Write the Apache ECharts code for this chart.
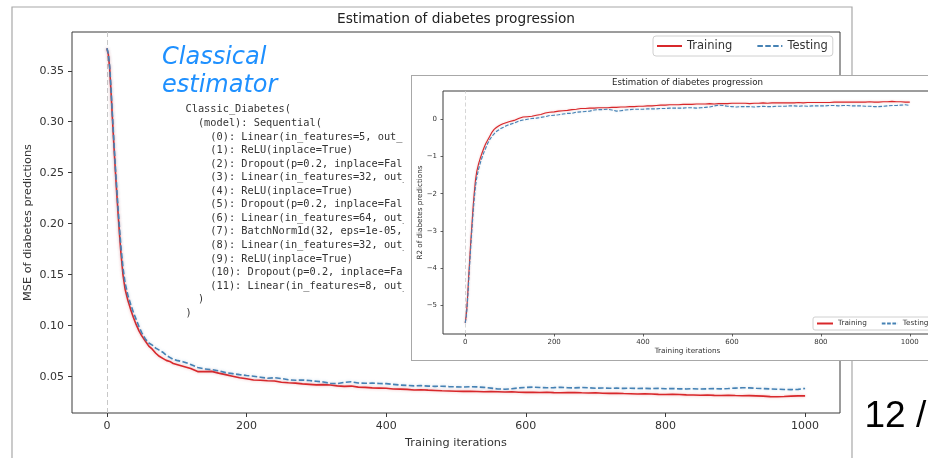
<!DOCTYPE html>
<html><head><meta charset="utf-8">
<script src="https://cdn.jsdelivr.net/npm/echarts@6/dist/echarts.min.js"></script>
<style>
html,body{margin:0;padding:0;width:928px;height:458px;overflow:hidden;background:#fff;}
#main{position:absolute;left:0;top:0;width:928px;height:458px;}
#inset{position:absolute;left:411px;top:75px;width:530px;height:286px;background:#fff;border:1px solid #a8a8a8;box-sizing:border-box;}
</style></head><body>
<div id="main"></div><div id="inset"></div>
<script>
const iters = [0,2,4,6,8,10,12,14,16,18,20,23,26,30,34,38,42,46,50,55,60,65,70,75,80,85,90,95,100,
110,120,130,140,150,160,170,180,190,200,210,220,230,240,250,260,270,280,290,300,
310,320,330,340,350,360,370,380,390,400,410,420,430,440,450,460,470,480,490,500,
510,520,530,540,550,560,570,580,590,600,610,620,630,640,650,660,670,680,690,700,
710,720,730,740,750,760,770,780,790,800,810,820,830,840,850,860,870,880,890,900,
910,920,930,940,950,960,970,980,990,1000];

const trainMSE = [0.372,0.366,0.352,0.328,0.302,0.277,0.253,0.231,0.210,0.190,0.172,0.150,0.136,0.125,0.116,0.108,0.101,0.095,0.090,0.085,0.080,0.077,0.073,0.070,0.068,0.066,0.065,0.063,0.062,
0.060,0.058,0.055,0.055,0.0552,0.0535,0.052,0.0505,0.049,0.048,
0.0468,0.0465,0.046,0.0458,0.0445,0.044,0.0437,0.043,0.0425,0.042,
0.0422,0.0418,0.041,0.0405,0.0408,0.0398,0.0395,0.039,0.0388,0.0386,
0.038,0.0378,0.0376,0.037,0.0372,0.0368,0.0365,0.0362,0.036,0.0358,
0.0356,0.0358,0.0355,0.0352,0.0354,0.0353,0.035,0.0352,0.0348,0.0346,
0.0348,0.0345,0.0347,0.0344,0.0342,0.0344,0.0345,0.0342,0.034,0.0342,
0.0338,0.0336,0.0338,0.0335,0.0333,0.033,0.0332,0.033,0.0327,0.0326,
0.0328,0.0325,0.0322,0.032,0.0318,0.032,0.0317,0.0316,0.0318,0.0315,
0.0313,0.0314,0.0312,0.0309,0.0305,0.0304,0.0306,0.0309,0.0312,0.0312];

const testMSE = [0.372,0.367,0.354,0.331,0.305,0.281,0.257,0.236,0.215,0.196,0.178,0.157,0.142,0.130,0.121,0.113,0.106,0.099,0.093,0.087,0.083,0.081,0.078,0.076,0.074,0.071,0.069,0.067,0.066,
0.0645,0.062,0.059,0.0575,0.057,0.0558,0.054,0.053,0.052,0.0512,
0.0505,0.0495,0.0485,0.049,0.0482,0.047,0.0465,0.0468,0.0462,0.0455,
0.0448,0.0435,0.0432,0.0445,0.045,0.0438,0.0435,0.0437,0.0433,0.0432,
0.0425,0.0418,0.0415,0.041,0.0412,0.0408,0.0405,0.0407,0.0403,0.040,
0.0398,0.0402,0.040,0.0395,0.0388,0.038,0.0377,0.0382,0.039,0.0395,
0.0398,0.0394,0.0391,0.0393,0.0396,0.0392,0.039,0.0394,0.0391,0.0387,
0.0389,0.0386,0.0388,0.0385,0.0387,0.0384,0.0386,0.0383,0.0385,0.0382,
0.0384,0.0381,0.038,0.0382,0.0379,0.0381,0.0383,0.0381,0.0384,0.0388,
0.0392,0.039,0.0386,0.0383,0.038,0.0377,0.0375,0.0373,0.0376,0.0385];

const trainR2 = [-5.47,-5.30,-5.02,-4.62,-4.18,-3.78,-3.38,-3.02,-2.66,-2.32,-2.02,-1.64,-1.40,-1.20,-1.04,-0.90,-0.77,-0.66,-0.57,-0.46,-0.35,-0.27,-0.22,-0.18,-0.15,-0.12,-0.10,-0.08,-0.06,
-0.03,0.02,0.06,0.07,0.08,0.11,0.13,0.17,0.19,0.20,
0.22,0.23,0.24,0.26,0.27,0.29,0.29,0.30,0.30,0.31,
0.31,0.31,0.32,0.32,0.33,0.33,0.34,0.34,0.35,0.35,
0.36,0.36,0.37,0.38,0.38,0.39,0.39,0.39,0.40,0.40,
0.40,0.41,0.41,0.41,0.42,0.41,0.42,0.42,0.42,0.43,
0.43,0.43,0.43,0.42,0.43,0.43,0.44,0.43,0.44,0.44,
0.44,0.44,0.44,0.44,0.45,0.44,0.45,0.45,0.45,0.45,
0.45,0.45,0.46,0.46,0.46,0.46,0.46,0.46,0.46,0.46,
0.47,0.46,0.46,0.47,0.47,0.48,0.47,0.47,0.46,0.46];

const testR2 = [-5.47,-5.33,-5.08,-4.72,-4.30,-3.90,-3.50,-3.14,-2.80,-2.47,-2.17,-1.80,-1.56,-1.34,-1.17,-1.02,-0.89,-0.78,-0.66,-0.55,-0.46,-0.39,-0.33,-0.29,-0.25,-0.22,-0.19,-0.16,-0.14,
-0.10,-0.05,-0.02,0.00,0.02,0.03,0.05,0.07,0.10,0.11,
0.12,0.14,0.16,0.16,0.19,0.20,0.21,0.22,0.25,0.26,
0.26,0.27,0.25,0.22,0.23,0.25,0.26,0.27,0.27,0.27,
0.28,0.28,0.28,0.29,0.29,0.30,0.30,0.30,0.30,0.31,
0.31,0.30,0.31,0.32,0.33,0.36,0.38,0.37,0.35,0.34,
0.33,0.34,0.34,0.34,0.33,0.34,0.35,0.34,0.34,0.35,
0.35,0.35,0.36,0.36,0.35,0.36,0.35,0.36,0.36,0.36,
0.36,0.37,0.37,0.36,0.37,0.37,0.36,0.36,0.36,0.35,
0.35,0.34,0.34,0.35,0.36,0.37,0.37,0.38,0.39,0.37];

const iterTicks = [0,200,400,600,800,1000];
const mseTicks = [0.05,0.10,0.15,0.20,0.25,0.30,0.35];
const r2Ticks = [-5,-4,-3,-2,-1,0];
const seriesNames = ['Training','Testing'];
const chartTitle = 'Estimation of diabetes progression';
const xName = 'Training iterations';
const yNameMain = 'MSE of diabetes predictions';
const yNameInset = 'R2 of diabetes predictions';
const codeLines = [
'Classic_Diabetes(',
'  (model): Sequential(',
'    (0): Linear(in_features=5, out_',
'    (1): ReLU(inplace=True)',
'    (2): Dropout(p=0.2, inplace=Fal',
'    (3): Linear(in_features=32, out_',
'    (4): ReLU(inplace=True)',
'    (5): Dropout(p=0.2, inplace=Fal',
'    (6): Linear(in_features=64, out_',
'    (7): BatchNorm1d(32, eps=1e-05,',
'    (8): Linear(in_features=32, out_',
'    (9): ReLU(inplace=True)',
'    (10): Dropout(p=0.2, inplace=Fa',
'    (11): Linear(in_features=8, out_',
'  )',
')'];

const FONT = '"DejaVu Sans", sans-serif';
const RED = '#d8282b';
const BLUE = '#4682b4';
const pairs = (ys) => iters.map((x, i) => [x, ys[i]]);
const minusFmt = (v) => (v < 0 ? '\u2212' + Math.abs(v) : String(v));

// ---------- main chart ----------
const main = echarts.init(document.getElementById('main'), null, {renderer: 'canvas'});
main.setOption({
  animation: false,
  backgroundColor: '#fff',
  grid: {left: 72, top: 32, width: 768, height: 381, show: true, borderColor: '#3a3a3a', borderWidth: 1,
    backgroundColor: 'transparent', containLabel: false, outerBoundsMode: 'none'},
  legend: {
    data: seriesNames, left: 653, top: 36, itemWidth: 25, itemHeight: 10, itemGap: 24,
    padding: [4, 5, 4, 3], borderColor: '#d0d0d0', borderWidth: 1, borderRadius: 3,
    backgroundColor: '#fff', itemStyle: {opacity: 0},
    textStyle: {fontFamily: FONT, fontSize: 11.5, color: '#333'}
  },
  xAxis: {
    type: 'value', min: -50, max: 1050,
    name: xName, nameLocation: 'middle', nameGap: 25, nameMoveOverlap: false,
    nameTextStyle: {fontFamily: FONT, fontSize: 11.3, color: '#333'},
    axisLine: {show: false, onZero: false},
    axisTick: {show: true, length: 4, lineStyle: {color: '#3a3a3a'}, customValues: iterTicks},
    axisLabel: {fontFamily: FONT, fontSize: 11, color: '#333', margin: 8, customValues: iterTicks, formatter: (v) => String(v)},
    splitLine: {show: false}
  },
  yAxis: {
    type: 'value', min: 0.0144, max: 0.388,
    name: yNameMain, nameLocation: 'middle', nameGap: 38, nameMoveOverlap: false,
    nameTextStyle: {fontFamily: FONT, fontSize: 11.3, color: '#333'},
    axisLine: {show: false, onZero: false},
    axisTick: {show: true, length: 4, lineStyle: {color: '#3a3a3a'}, customValues: mseTicks},
    axisLabel: {fontFamily: FONT, fontSize: 11, color: '#333', margin: 8, customValues: mseTicks, formatter: (v) => v.toFixed(2)},
    splitLine: {show: false}
  },
  series: [
    {
      name: seriesNames[0], type: 'line', data: pairs(trainMSE), symbol: 'none', z: 3,
      lineStyle: {color: RED, width: 1.6, shadowColor: 'rgba(216,40,43,0.35)', shadowBlur: 3},
      itemStyle: {color: RED},
      markLine: {silent: true, symbol: 'none', z: 1, label: {show: false},
        lineStyle: {color: '#c8c8c8', type: [5, 3], width: 1}, data: [{xAxis: 0}]}
    },
    {
      name: seriesNames[1], type: 'line', data: pairs(testMSE), symbol: 'none', z: 4,
      lineStyle: {color: BLUE, width: 1.6, type: [5.5, 2.4], shadowColor: 'rgba(70,130,180,0.3)', shadowBlur: 3},
      itemStyle: {color: BLUE}
    }
  ],
  graphic: [
    {type: 'rect', silent: true, z: -10, shape: {x: 12, y: 7, width: 840, height: 520},
      style: {fill: 'none', stroke: '#a8a8a8', lineWidth: 1.2}},
    {type: 'text', silent: true, style: {text: chartTitle, x: 456, y: 19.5, align: 'center', verticalAlign: 'middle',
      font: '13.7px ' + FONT, fill: '#222'}},
    {type: 'text', silent: true, style: {text: 'Classical\nestimator', x: 162, y: 43.5, align: 'left', verticalAlign: 'top',
      font: 'italic 24px ' + FONT, fill: '#1e90ff', lineHeight: 28}},
    {type: 'text', silent: true, style: {text: codeLines.join('\n'), x: 185.5, y: 103, align: 'left', verticalAlign: 'top',
      font: '10.3px "DejaVu Sans Mono", monospace', fill: '#333', lineHeight: 13.55}},
    {type: 'rect', silent: true, shape: {x: 404, y: 100, width: 8, height: 230}, style: {fill: '#fff'}},
    {type: 'text', silent: true, style: {text: '12 /', x: 864.5, y: 417, align: 'left', verticalAlign: 'middle',
      font: '37px "Liberation Sans"', fill: '#000'}}
  ]
});

// ---------- inset chart ----------
const inset = echarts.init(document.getElementById('inset'), null, {renderer: 'canvas'});
inset.setOption({
  animation: false,
  backgroundColor: '#fff',
  grid: {left: 31, top: 15, width: 489, height: 243, show: true, borderColor: '#3a3a3a', borderWidth: 1,
    containLabel: false, outerBoundsMode: 'none'},
  legend: {
    data: seriesNames, left: 401, top: 241, itemWidth: 16, itemHeight: 6, itemGap: 14,
    padding: [3, 4, 3, 3], borderColor: '#d0d0d0', borderWidth: 1, borderRadius: 2,
    backgroundColor: '#fff', itemStyle: {opacity: 0},
    textStyle: {fontFamily: FONT, fontSize: 7.3, color: '#333'}
  },
  xAxis: {
    type: 'value', min: -50, max: 1050,
    name: xName, nameLocation: 'middle', nameGap: 14, nameMoveOverlap: false,
    nameTextStyle: {fontFamily: FONT, fontSize: 7.3, color: '#333'},
    axisLine: {show: false, onZero: false},
    axisTick: {show: true, length: 2.5, lineStyle: {color: '#3a3a3a', width: 0.8}, customValues: iterTicks},
    axisLabel: {fontFamily: FONT, fontSize: 7, color: '#333', margin: 5, customValues: iterTicks, formatter: (v) => String(v)},
    splitLine: {show: false}
  },
  yAxis: {
    type: 'value', min: -5.77, max: 0.76,
    name: yNameInset, nameLocation: 'middle', nameGap: 19.5, nameMoveOverlap: false,
    nameTextStyle: {fontFamily: FONT, fontSize: 7.2, color: '#333'},
    axisLine: {show: false, onZero: false},
    axisTick: {show: true, length: 2.5, lineStyle: {color: '#3a3a3a', width: 0.8}, customValues: r2Ticks},
    axisLabel: {fontFamily: FONT, fontSize: 7, color: '#333', margin: 6, customValues: r2Ticks, formatter: minusFmt},
    splitLine: {show: false}
  },
  series: [
    {
      name: seriesNames[0], type: 'line', data: pairs(trainR2), symbol: 'none', z: 3,
      lineStyle: {color: RED, width: 1.1, shadowColor: 'rgba(216,40,43,0.3)', shadowBlur: 2},
      itemStyle: {color: RED},
      markLine: {silent: true, symbol: 'none', z: 1, label: {show: false},
        lineStyle: {color: '#cccccc', type: [4, 2.5], width: 0.8}, data: [{xAxis: 0}]}
    },
    {
      name: seriesNames[1], type: 'line', data: pairs(testR2), symbol: 'none', z: 4,
      lineStyle: {color: BLUE, width: 1.1, type: [3.7, 1.6], shadowColor: 'rgba(70,130,180,0.25)', shadowBlur: 2},
      itemStyle: {color: BLUE}
    }
  ],
  graphic: [
    {type: 'text', silent: true, style: {text: chartTitle, x: 275.5, y: 7.2, align: 'center', verticalAlign: 'middle',
      font: '8.7px ' + FONT, fill: '#222'}}
  ]
});
</script></body></html>
